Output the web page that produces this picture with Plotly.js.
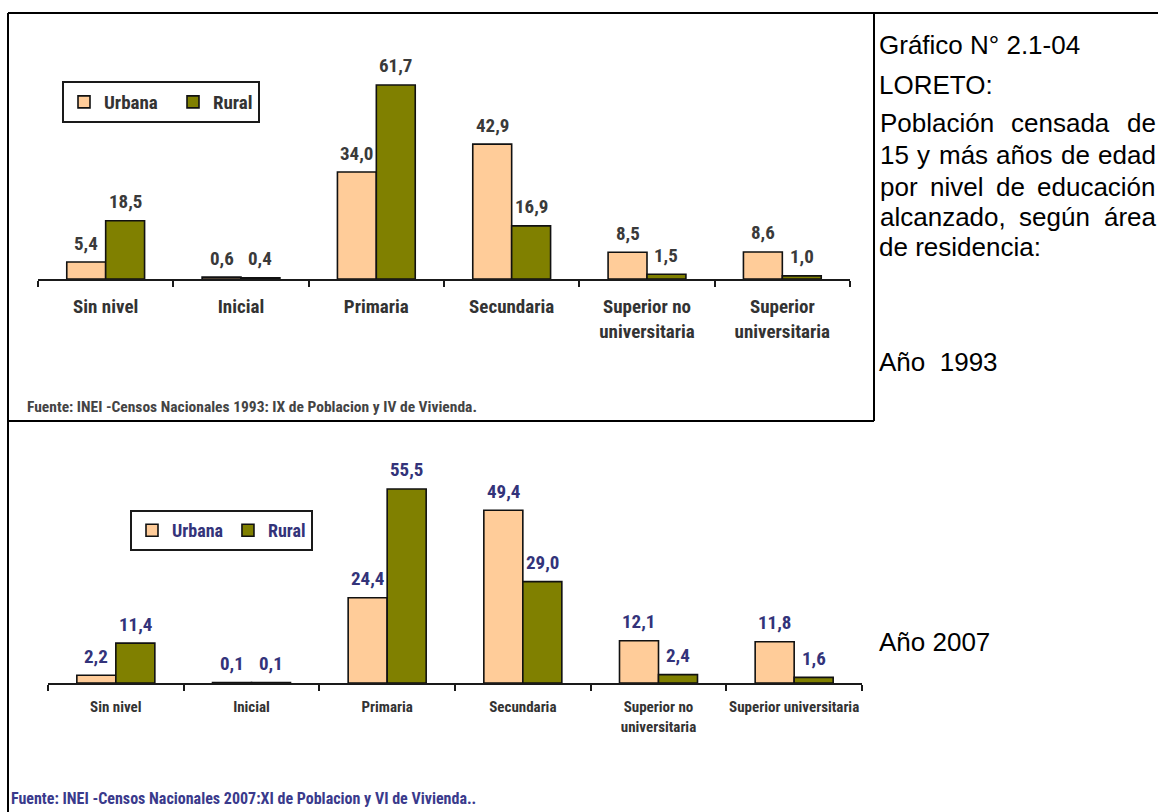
<!DOCTYPE html>
<html>
<head>
<meta charset="utf-8">
<script src="https://cdn.plot.ly/plotly-3.0.1.min.js"></script>
<style>
  html, body { margin: 0; padding: 0; background: #fff; }
  #chart { width: 1158px; height: 812px; }
</style>
</head>
<body>
<div id="chart"></div>
<script>
// ---- data -------------------------------------------------------------
const categories1993 = ['Sin nivel', 'Inicial', 'Primaria', 'Secundaria',
  'Superior no<br>universitaria', 'Superior<br>universitaria'];
const categories2007 = ['Sin nivel', 'Inicial', 'Primaria', 'Secundaria',
  'Superior no<br>universitaria', 'Superior universitaria'];
const urbana1993 = [5.4, 0.6, 34.0, 42.9, 8.5, 8.6];
const rural1993  = [18.5, 0.4, 61.7, 16.9, 1.5, 1.0];
const urbana2007 = [2.2, 0.1, 24.4, 49.4, 12.1, 11.8];
const rural2007  = [11.4, 0.1, 55.5, 29.0, 2.4, 1.6];
const seriesNames = ['Urbana', 'Rural'];
const source1993 = 'Fuente: INEI -Censos Nacionales 1993: IX de Poblacion y IV de Vivienda.';
const source2007 = 'Fuente: INEI -Censos Nacionales 2007:XI de Poblacion y VI de Vivienda..';
const sideHeading = ['Gráfico N° 2.1-04', 'LORETO:'];
const sideBody = ['Población censada de', '15 y más años de edad',
  'por nivel de educación', 'alcanzado, según área', 'de residencia:'];
const yearLabel1993 = 'Año&nbsp; 1993';
const yearLabel2007 = 'Año 2007';

// ---- page geometry helpers (pixel -> paper fraction) -------------------
const W = 1158, H = 812;
const px = x => x / W;
const py = y => 1 - y / H;

const NARROW = "'Liberation Sans Narrow', 'Arial Narrow', 'Roboto Condensed', 'DejaVu Sans Condensed', 'Liberation Sans', sans-serif";
const SANS = "'Liberation Sans', Arial, sans-serif";
const URB_COLOR = '#FFCC99';
const RUR_COLOR = '#808000';
const BARGAP = 0.425;

// plot boxes in page pixels
const box1 = { x0: 38, x1: 850, base: 279, top: 27, pxPerUnit: 3.145 };
const box2 = { x0: 48, x1: 862, base: 683, top: 440, pxPerUnit: 3.496 };

const fmt = v => v.toFixed(1).replace('.', ',');

function barTrace(name, cats, vals, color, xa, ya, legend, legendwidth) {
  const t = {
    type: 'bar', name: name, x: cats, y: vals,
    xaxis: xa, yaxis: ya, legend: legend,
    marker: { color: color, line: { color: '#111', width: 1.6 } },
    hoverinfo: 'skip', cliponaxis: false
  };
  if (legendwidth) t.legendwidth = legendwidth;
  return t;
}

function valueLabels(cats, vals, box, side, xa, ya, color) {
  const catPx = (box.x1 - box.x0) / cats.length;
  const shift = catPx * (1 - BARGAP) / 4;
  return vals.map((v, i) => ({
    xref: xa, yref: ya, x: cats[i], y: v,
    text: fmt(v), showarrow: false,
    xshift: side * shift, yshift: 19, yanchor: 'middle',
    font: { family: NARROW, size: 19, color: color, weight: 'bold' }
  }));
}

// justified text line: first word flush left, last flush right
const measureCtx = document.createElement('canvas').getContext('2d');
function justifiedLine(text, x0, x1, y, size) {
  const words = text.split(' ');
  measureCtx.font = size + 'px "Liberation Sans", Arial, sans-serif';
  const widths = words.map(w => measureCtx.measureText(w).width);
  const total = widths.reduce((a, b) => a + b, 0);
  const gap = (x1 - x0 - total) / (words.length - 1);
  let x = x0;
  return words.map((w, i) => {
    const a = {
      xref: 'paper', yref: 'paper', x: px(x), y: py(y),
      xanchor: 'left', yanchor: 'middle', text: w, showarrow: false,
      borderpad: 0, font: { family: SANS, size: size, color: '#000' }
    };
    x += widths[i] + gap;
    return a;
  });
}
function plainLine(text, x, y, size, family, color, weight) {
  return {
    xref: 'paper', yref: 'paper', x: px(x), y: py(y),
    xanchor: 'left', yanchor: 'middle', text: text, showarrow: false,
    borderpad: 0, font: { family: family, size: size, color: color, weight: weight || 'normal' }
  };
}

const traces = [
  barTrace(seriesNames[0], categories1993, urbana1993, URB_COLOR, 'x', 'y', 'legend', 64),
  barTrace(seriesNames[1], categories1993, rural1993, RUR_COLOR, 'x', 'y', 'legend'),
  barTrace(seriesNames[0], categories2007, urbana2007, URB_COLOR, 'x2', 'y2', 'legend2'),
  barTrace(seriesNames[1], categories2007, rural2007, RUR_COLOR, 'x2', 'y2', 'legend2')
];

function xAxis(box, fontSize, standoff) {
  return {
    domain: [px(box.x0), px(box.x1)], range: [-0.5, 5.5],
    type: 'category', showgrid: false, zeroline: false,
    showline: true, linecolor: '#1a1a1a', linewidth: 2,
    ticks: 'outside', tickson: 'boundaries', ticklen: 6, tickwidth: 2, tickcolor: '#1a1a1a',
    tickangle: 0, ticklabelstandoff: standoff,
    tickfont: { family: NARROW, size: fontSize, color: '#333', weight: 'bold' },
    fixedrange: true
  };
}
function yAxis(box, anchor) {
  return {
    domain: [py(box.base), py(box.top)],
    range: [0, (box.base - box.top) / box.pxPerUnit],
    visible: false, fixedrange: true, anchor: anchor
  };
}

const INDIGO = '#33337a';
let annotations = []
  .concat(valueLabels(categories1993, urbana1993, box1, -1, 'x', 'y', '#3a3a3a'))
  .concat(valueLabels(categories1993, rural1993, box1, 1, 'x', 'y', '#3a3a3a'))
  .concat(valueLabels(categories2007, urbana2007, box2, -1, 'x2', 'y2', INDIGO))
  .concat(valueLabels(categories2007, rural2007, box2, 1, 'x2', 'y2', INDIGO));

// side column text
const SIDE_SIZE = 26;
annotations.push(plainLine(sideHeading[0], 878, 45, SIDE_SIZE, SANS, '#000'));
annotations.push(plainLine(sideHeading[1], 878, 85, SIDE_SIZE, SANS, '#000'));
const bodyY = [123, 155, 187, 217, 247];
sideBody.forEach((t, i) => {
  if (i < sideBody.length - 1) annotations = annotations.concat(justifiedLine(t, 879, 1155, bodyY[i], SIDE_SIZE));
  else annotations.push(plainLine(t, 878, bodyY[i], SIDE_SIZE, SANS, '#000'));
});
annotations.push(plainLine(yearLabel1993, 878, 362, SIDE_SIZE, SANS, '#000'));
annotations.push(plainLine(yearLabel2007, 878, 642, SIDE_SIZE, SANS, '#000'));

// source notes
annotations.push(plainLine(source1993, 26, 407, 15.5, NARROW, '#444', 'bold'));
annotations.push(plainLine(source2007, 10, 798, 16, NARROW, '#3a3a8c', 'bold'));

// table frame
const frameLine = (x0, y0, x1, y1) => ({
  type: 'line', xref: 'paper', yref: 'paper',
  x0: px(x0), y0: py(y0), x1: px(x1), y1: py(y1),
  line: { color: '#000', width: 2 }
});
const shapes = [
  frameLine(8, 13, 1158, 13),
  frameLine(8, 13, 8, 812),
  frameLine(874, 13, 874, 421),
  frameLine(8, 421, 874, 421)
];

const legendBase = {
  orientation: 'h', xanchor: 'left', yanchor: 'top',
  bgcolor: '#fff', bordercolor: '#1a1a1a', borderwidth: 2,
  traceorder: 'normal', itemclick: false, itemdoubleclick: false
};

const layout = {
  width: W, height: H,
  margin: { l: 0, r: 0, t: 0, b: 0 },
  paper_bgcolor: '#fff', plot_bgcolor: 'rgba(0,0,0,0)',
  barmode: 'group', bargap: BARGAP, bargroupgap: 0,
  showlegend: true,
  xaxis: xAxis(box1, 19, 9),
  yaxis: yAxis(box1, 'x'),
  xaxis2: Object.assign(xAxis(box2, 15, 9), { anchor: 'y2' }),
  yaxis2: yAxis(box2, 'x2'),
  legend: Object.assign({}, legendBase, {
    x: px(62), y: py(81),
    font: { family: NARROW, size: 19, color: '#333', weight: 'bold' }
  }),
  legend2: Object.assign({}, legendBase, {
    x: px(130), y: py(510),
    font: { family: NARROW, size: 18, color: INDIGO, weight: 'bold' }
  }),
  annotations: annotations,
  shapes: shapes
};

Plotly.newPlot('chart', traces, layout, { displayModeBar: false, staticPlot: true });
</script>
</body>
</html>
